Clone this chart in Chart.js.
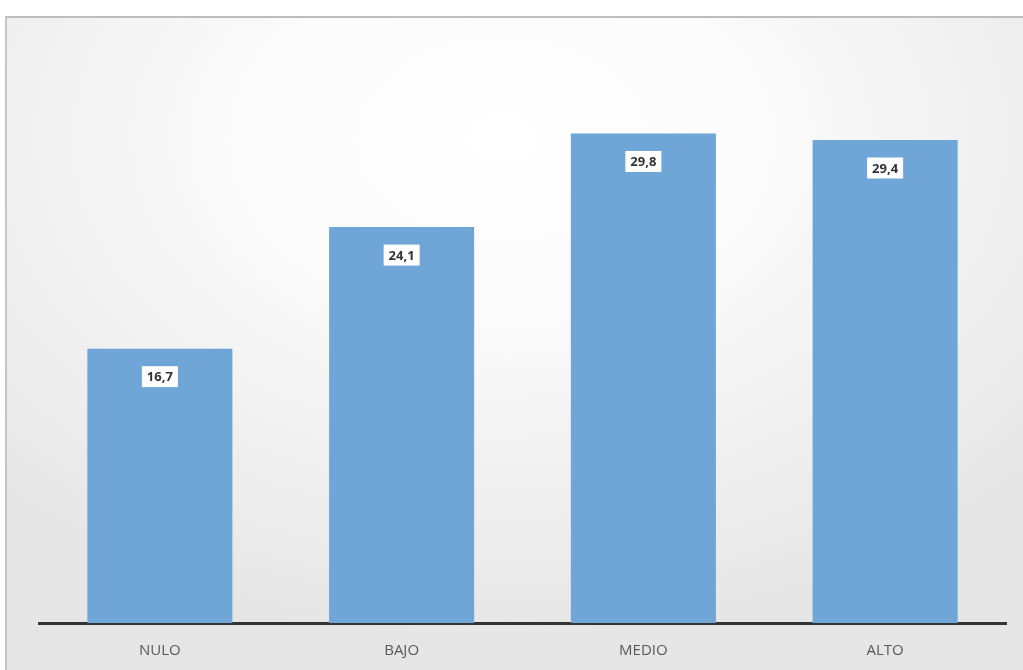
<!DOCTYPE html>
<html>
<head>
<meta charset="utf-8">
<script src="https://cdn.jsdelivr.net/npm/chart.js@4.4.0/dist/chart.umd.min.js"></script>
<style>
  html, body { margin: 0; padding: 0; background: #fff; overflow: hidden; }
  .frame {
    position: absolute; left: 5px; top: 16px; width: 1030px; height: 670px;
    border-top: 2px solid #bdbdbd; border-left: 2px solid #c4c4c4;
    background: radial-gradient(ellipse 70% 75% at 48% 18%, #ffffff 0%, #fbfbfb 35%, #eeeeee 75%, #e6e6e6 100%);
  }
  .wrap { position: absolute; left: 0; top: 0; width: 1023px; height: 670px; }
</style>
</head>
<body>
<div class="frame"></div>
<div class="wrap"><canvas class="bar-chart"></canvas></div>
<script>
const categorias = ['NULO', 'BAJO', 'MEDIO', 'ALTO'];
const valores = [16.7, 24.1, 29.8, 29.4];
const yMax = 35;

// etiquetas tipo excel: caja blanca debajo del tope de la barra
const etiquetas = {
    id: 'etiquetas',
    afterDatasetsDraw(chart) {
        const ctx = chart.ctx;
        const meta = chart.getDatasetMeta(0);
        ctx.save();
        ctx.font = 'bold 13px "Open Sans", "DejaVu Sans", sans-serif';
        ctx.textAlign = 'center';
        ctx.textBaseline = 'middle';
        meta.data.forEach((bar, i) => {
            const txt = valores[i].toFixed(1).replace('.', ',');
            const w = ctx.measureText(txt).width + 10;
            const h = 21;
            const cy = bar.y + 28;
            ctx.fillStyle = '#ffffff';
            ctx.fillRect(bar.x - w / 2, cy - h / 2, w, h);
            ctx.fillStyle = '#333333';
            ctx.fillText(txt, bar.x, cy + 1);
        });
        ctx.restore();
    }
};

const ctxBar = document.querySelector('.bar-chart').getContext('2d');
const chartBar = new Chart(ctxBar, {
    type: 'bar',
    data: {
        labels: categorias,
        datasets: [{
            data: valores,
            backgroundColor: '#6fa5d7',
            categoryPercentage: 0.6,
            barPercentage: 1
        }]
    },
    options: {
        responsive: true,
        maintainAspectRatio: false,
        animation: false,
        layout: { padding: { left: 39, right: 17, top: 48, bottom: 0 } },
        plugins: { legend: { display: false }, tooltip: { enabled: false } },
        scales: {
            x: {
                grid: { display: false, drawTicks: false },
                border: { display: true, color: '#333333', width: 3 },
                ticks: {
                    color: '#595959',
                    padding: 19,
                    font: { size: 15, family: '"Open Sans", "DejaVu Sans", sans-serif' }
                },
                afterFit(scale) { scale.height = 47; }
            },
            y: {
                display: false,
                min: 0,
                max: yMax
            }
        }
    },
    plugins: [etiquetas]
});
</script>
</body>
</html>
